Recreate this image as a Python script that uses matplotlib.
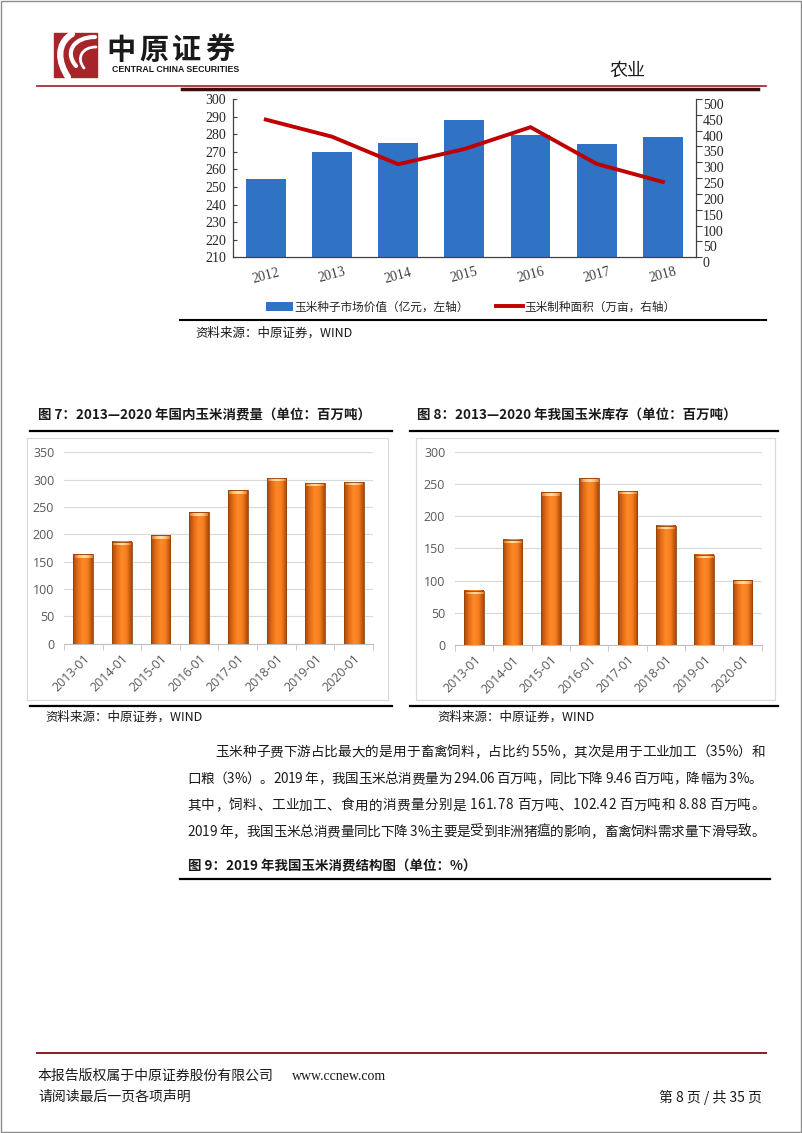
import numpy as np
import matplotlib
matplotlib.use("Agg")
import matplotlib.pyplot as plt
from matplotlib.patches import Rectangle, PathPatch
from matplotlib.path import Path
from matplotlib.colors import LinearSegmentedColormap
from matplotlib.transforms import ScaledTranslation
from matplotlib.font_manager import FontProperties

plt.rcParams['font.family'] = ['Noto Sans CJK SC', 'DejaVu Sans']

# ---- data ----
years_top = ['2012', '2013', '2014', '2015', '2016', '2017', '2018']
seed_value = [254.5, 270, 275.2, 288, 279.3, 274.6, 278.6]   # 亿元, left axis
seed_area = [435, 381, 294, 342, 411, 295, 238]              # 万亩, right axis

months = ['2013-01', '2014-01', '2015-01', '2016-01', '2017-01', '2018-01', '2019-01', '2020-01']
consumption = [163.5, 186.6, 198, 240, 280.6, 303.5, 294.1, 295.8]
stock = [84.3, 163, 237, 258.6, 239, 185, 140, 100.4]

body_lines = [
    "玉米种子费下游占比最大的是用于畜禽饲料，占比约 55%，其次是用于工业加工（35%）和",
    "口粮（3%）。2019 年，我国玉米总消费量为 294.06 百万吨，同比下降 9.46 百万吨，降幅为 3%。",
    "其中，饲料、工业加工、食用的消费量分别是 161.78 百万吨、102.42 百万吨和 8.88 百万吨。",
    "2019 年，我国玉米总消费量同比下降 3%主要是受到非洲猪瘟的影响，畜禽饲料需求量下滑导致。",
]

W, H = 802, 1133
CJK = ['Noto Sans CJK SC', 'DejaVu Sans']


def box(x0, y0, x1, y1):
    return [x0 / W, 1 - y1 / H, (x1 - x0) / W, (y1 - y0) / H]


fig = plt.figure(figsize=(W / 100, H / 100), dpi=100, facecolor='white')
renderer = fig.canvas.get_renderer()

# page layer in pixel coordinates
page = fig.add_axes([0, 0, 1, 1], zorder=0)
page.set_xlim(0, W)
page.set_ylim(H, 0)
page.axis('off')


def justify(x0, x1, y, s, size):
    # spread the characters so the line runs from x0 to x1, like a justified paragraph
    prop = FontProperties(family=CJK, size=size)
    def width(t):
        if not t:
            return 0.0
        return renderer.get_text_width_height_descent(t, prop, False)[0]
    total = width(s)
    extra = (x1 - x0 - total) / (len(s) - 1)
    for k, ch in enumerate(s):
        if ch == ' ':
            continue
        page.text(x0 + width(s[:k]) + k * extra, y, ch, fontproperties=prop,
                  va='center', ha='left', color='#1a1a1a')


page.add_patch(Rectangle((0.5, 0.5), W - 1.5, H - 2, fill=False, edgecolor='#8c8c8c', lw=1))

# logo
page.add_patch(Rectangle((54, 33), 43, 44, color='#a6252b'))
for verts, lw in [([(72, 34), (56, 44), (58, 62), (68, 77)], 4.5),
                  ([(95, 37), (74, 37), (64, 52), (76, 66)], 3.0),
                  ([(96, 47), (82, 47), (76, 58), (84, 68)], 2.0)]:
    p = Path(verts, [Path.MOVETO, Path.CURVE4, Path.CURVE4, Path.CURVE4])
    page.add_patch(PathPatch(p, fill=False, edgecolor='white', lw=lw, capstyle='round'))
for k, ch in enumerate("中原证券"):
    page.text(106 + k * 33, 50, ch, fontsize=21, fontweight='bold', family=CJK,
              va='center', ha='left', color='#1a1a1a')
page.text(112, 69, "CENTRAL CHINA SECURITIES", fontsize=6.3, fontweight='bold',
          family='Liberation Sans', va='center', ha='left', color='#1a1a1a')
page.text(609, 71, "农业", fontsize=13, family=CJK, va='center', ha='left', color='#1a1a1a')

page.plot([37, 766], [86, 86], color='#9b2226', lw=1.2)
page.plot([182, 758], [88.5, 88.5], color='#3d0b0b', lw=2.5)

# ---- figure: seed market value vs seed area ----
ax = fig.add_axes(box(232.7, 99, 696, 257.3), zorder=2)
x = np.arange(len(years_top))
bars = ax.bar(x, np.array(seed_value) - 210, 0.6, bottom=210, color='#3072c4', zorder=2)
ax.set_xlim(-0.5, len(years_top) - 0.5)
ax.set_ylim(210, 300)
ax.set_yticks(np.arange(210, 301, 10))
ax.set_xticks(x)
ax.set_xticklabels(years_top, rotation=15, family='Liberation Serif', fontsize=10, color='#404040')
ax.tick_params(axis='x', length=0, pad=6)
ax.tick_params(axis='y', direction='in', length=3, color='#404040', labelsize=10,
               labelcolor='#262626', pad=5)
for lbl in ax.get_yticklabels():
    lbl.set_family('Liberation Serif')
for s in ['top', 'right']:
    ax.spines[s].set_visible(False)
for s in ['left', 'bottom']:
    ax.spines[s].set_color('#404040')
    ax.spines[s].set_linewidth(0.9)
ax.patch.set_alpha(0)

ax2 = ax.twinx()
line, = ax2.plot(x, seed_area, color='#be0000', lw=2.8, zorder=3)
ax2.set_ylim(0, 500)
ax2.set_yticks(np.arange(0, 501, 50))
ax2.tick_params(axis='y', direction='out', length=4, color='#404040', labelsize=10,
                labelcolor='#262626', pad=1)
for lbl in ax2.get_yticklabels():
    lbl.set_family('Liberation Serif')
    lbl.set_transform(lbl.get_transform() + ScaledTranslation(0, -5 / 100, fig.dpi_scale_trans))
for s in ['top', 'left', 'bottom']:
    ax2.spines[s].set_visible(False)
ax2.spines['right'].set_color('#404040')
ax2.spines['right'].set_linewidth(0.9)

fig.legend([bars, line], ["玉米种子市场价值（亿元，左轴）", "玉米制种面积（万亩，右轴）"],
           loc='center', bbox_to_anchor=(471 / W, 1 - 307 / H), ncol=2, frameon=False,
           prop={'family': CJK, 'size': 8.4}, handlelength=2.3, handletextpad=0.15,
           columnspacing=2.3, labelcolor='#262626')

page.plot([180, 766], [320, 320], color='black', lw=1.5)
page.text(195, 333, "资料来源：中原证券，WIND", fontsize=9, family=CJK, va='center', color='#1a1a1a')

# ---- orange gradient bar charts ----
body_cmap = LinearSegmentedColormap.from_list(
    'orange_body', ['#a8480a', '#e56d17', '#ff8a28', '#f47c1e', '#a8480a'])
cap_cmap = LinearSegmentedColormap.from_list(
    'orange_cap', ['#e07a28', '#ffc27a', '#ffe0b0', '#ffc27a', '#e07a28'])
grad = np.linspace(0, 1, 64).reshape(1, -1)


def orange_bars(axis, labels, vals, ymax, step):
    n = len(vals)
    w = 0.51
    pos = np.arange(n)
    cap = ymax * 0.018
    for i, v in zip(pos, vals):
        axis.imshow(grad, extent=[i - w / 2, i + w / 2, 0, v], aspect='auto',
                    cmap=body_cmap, zorder=3, interpolation='bicubic')
        axis.imshow(grad, extent=[i - w / 2 + 0.03, i + w / 2 - 0.03, v - cap, v - cap * 0.15],
                    aspect='auto', cmap=cap_cmap, zorder=4, interpolation='bicubic')
    axis.bar(pos, vals, w, fill=False, edgecolor='#944208', lw=0.6, zorder=5)
    axis.set_xlim(-0.5, n - 0.5)
    axis.set_ylim(0, ymax)
    axis.set_yticks(np.arange(0, ymax + 1, step))
    axis.set_xticks(pos)
    axis.set_xticklabels(labels, rotation=45, ha='right', rotation_mode='anchor')
    axis.set_xticks(np.arange(-0.5, n), minor=True)
    axis.tick_params(axis='x', which='major', length=0, pad=6, labelsize=9, labelcolor='#595959')
    axis.tick_params(axis='x', which='minor', length=4, color='#bfbfbf', direction='out')
    axis.tick_params(axis='y', length=0, labelsize=9, labelcolor='#595959', pad=7)
    for lbl in axis.get_xticklabels() + axis.get_yticklabels():
        lbl.set_family(['Open Sans', 'DejaVu Sans'])
    axis.yaxis.grid(True, color='#d9d9d9', lw=0.8, zorder=0)
    axis.set_axisbelow(True)
    for s in ['top', 'right', 'left']:
        axis.spines[s].set_visible(False)
    axis.spines['bottom'].set_color('#bfbfbf')
    axis.spines['bottom'].set_linewidth(0.8)
    axis.patch.set_alpha(0)


# figure 7
page.text(38, 415, "图 7：2013—2020 年国内玉米消费量（单位：百万吨）", fontsize=9.7, fontweight='bold',
          family=CJK, va='center', color='#1a1a1a')
page.plot([30, 392], [430.5, 430.5], color='black', lw=1.6)
page.add_patch(Rectangle((27, 438), 361, 262, fill=False, edgecolor='#d9d9d9', lw=0.8))
ax7 = fig.add_axes(box(64, 452.3, 373, 643.7), zorder=2)
orange_bars(ax7, months, consumption, 350, 50)
page.plot([30, 392], [706, 706], color='black', lw=1.6)
page.text(45, 717, "资料来源：中原证券，WIND", fontsize=9, family=CJK, va='center', color='#1a1a1a')

# figure 8
page.text(417, 415, "图 8：2013—2020 年我国玉米库存（单位：百万吨）", fontsize=9.7, fontweight='bold',
          family=CJK, va='center', color='#1a1a1a')
page.plot([410, 778], [430.5, 430.5], color='black', lw=1.6)
page.add_patch(Rectangle((416, 438), 359, 262, fill=False, edgecolor='#d9d9d9', lw=0.8))
ax8 = fig.add_axes(box(455, 451.7, 761.7, 645), zorder=2)
orange_bars(ax8, months, stock, 300, 50)
page.plot([410, 778], [706, 706], color='black', lw=1.6)
page.text(437, 717, "资料来源：中原证券，WIND", fontsize=9, family=CJK, va='center', color='#1a1a1a')

# ---- body text (justified) ----
line_ends = [765, 762, 765, 765]
for i, txt in enumerate(body_lines):
    x0 = 215 if i == 0 else 187
    justify(x0, line_ends[i], 752 + i * 26.7, txt, 9.8)

page.text(188, 866, "图 9：2019 年我国玉米消费结构图（单位：%）", fontsize=9.7, fontweight='bold',
          family=CJK, va='center', color='#1a1a1a')
page.plot([180, 770], [879, 879], color='black', lw=1.6)

# ---- footer ----
page.plot([37, 766], [1053, 1053], color='#8b1c24', lw=1.4)
page.text(38, 1076, "本报告版权属于中原证券股份有限公司", fontsize=10, family=CJK, va='center', color='#1a1a1a')
page.text(292, 1076, "www.ccnew.com", fontsize=10, family='Liberation Serif', va='center', color='#1a1a1a')
page.text(38, 1097, "请阅读最后一页各项声明", fontsize=10, family=CJK, va='center', color='#1a1a1a')
page.text(762, 1097, "第 8 页 / 共 35 页", fontsize=10, family=CJK, va='center', ha='right', color='#1a1a1a')

fig.savefig('out.png', dpi=100)
